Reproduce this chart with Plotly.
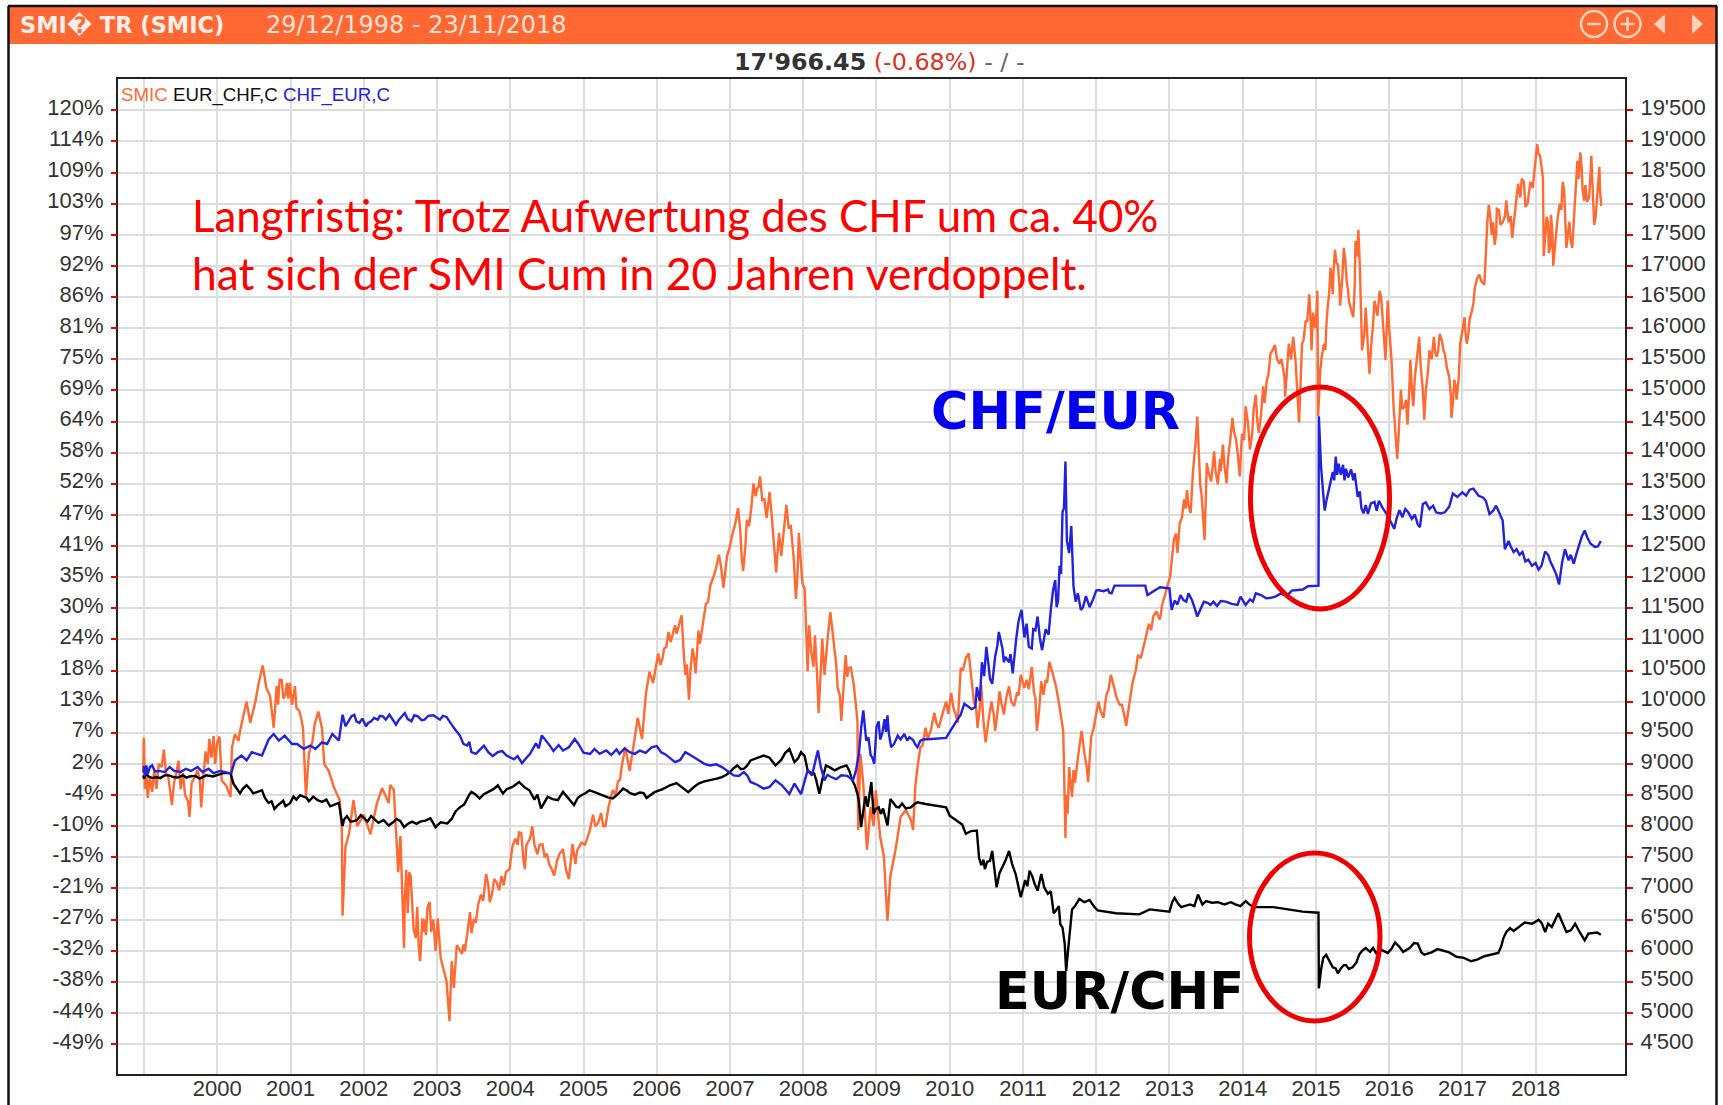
import plotly.graph_objects as go

# ---- data: (decimal year, value) ----
smic_points = [
(1998.99,8900),(1998.995,9420),(1999.0,9350),(1999.01,8600),(1999.03,8900),(1999.05,8450),(1999.08,8800),(1999.11,8550),
(1999.14,8900),(1999.17,8600),(1999.2,9000),(1999.24,8950),(1999.27,9230),(1999.3,8850),(1999.33,8800),(1999.38,8340),
(1999.41,8700),(1999.44,8850),(1999.47,9050),(1999.5,8600),(1999.53,8850),(1999.56,8500),(1999.6,8400),(1999.62,8150),
(1999.65,8700),(1999.7,8800),(1999.73,8900),(1999.76,8750),(1999.78,8300),(1999.81,8800),(1999.84,9200),(1999.87,9000),
(1999.89,9400),(1999.92,9100),(1999.95,9450),(1999.97,9000),(2000.0,9350),(2000.03,9440),(2000.06,8735),(2000.12,8650),
(2000.18,8470),(2000.2,9265),(2000.24,9477),(2000.29,9370),(2000.31,9530),(2000.36,9795),(2000.4,10000),(2000.45,9660),
(2000.52,10000),(2000.56,10270),(2000.62,10580),(2000.67,10220),(2000.72,10090),(2000.77,9580),(2000.81,10250),(2000.88,10350),
(2000.93,10110),(2000.95,10300),(2001.02,9950),(2001.06,10250),(2001.08,9900),(2001.17,9580),(2001.21,8470),(2001.25,9160),
(2001.3,9370),(2001.33,9640),(2001.38,9840),(2001.43,9560),(2001.46,9000),(2001.52,8890),(2001.59,8630),(2001.67,8420),
(2001.7,7940),(2001.71,6560),(2001.75,7670),(2001.8,7890),(2001.86,8420),(2001.91,8000),(2002.0,8185),(2002.09,7870),
(2002.18,8370),(2002.25,8610),(2002.34,8370),(2002.36,8660),(2002.41,8580),(2002.43,8100),(2002.47,7260),(2002.5,7840),
(2002.55,6040),(2002.56,6830),(2002.62,7260),(2002.66,6780),(2002.71,6200),(2002.77,5830),(2002.8,6520),(2002.85,6250),
(2002.9,6780),(2002.98,5990),(2003.01,6520),(2003.05,5880),(2003.13,5510),(2003.17,4870),(2003.2,5830),(2003.23,5400),
(2003.27,6090),(2003.38,5990),(2003.45,6620),(2003.47,6280),(2003.56,6730),(2003.67,7230),(2003.72,6780),(2003.81,7100),
(2003.85,6970),(2003.94,7260),(2003.99,7310),(2004.03,7680),(2004.15,7890),(2004.2,7310),(2004.24,7735),(2004.3,8000),
(2004.37,7550),(2004.44,7710),(2004.53,7390),(2004.6,7205),(2004.67,7550),(2004.72,7630),(2004.8,7150),(2004.85,7710),
(2004.89,7390),(2004.97,7735),(2005.06,7840),(2005.13,8185),(2005.2,8050),(2005.24,8210),(2005.3,8000),(2005.4,8580),
(2005.47,8715),(2005.52,8950),(2005.57,9265),(2005.63,8890),(2005.7,9425),(2005.74,9740),(2005.8,9400),(2005.85,10110),
(2005.9,10480),(2005.95,10300),(2006.02,10775),(2006.05,10590),(2006.13,10880),(2006.16,11120),(2006.19,10960),(2006.25,11225),
(2006.27,11090),(2006.34,11385),(2006.37,10750),(2006.39,10430),(2006.44,10030),(2006.49,10855),(2006.53,10455),(2006.57,11145),
(2006.59,10935),(2006.67,11570),(2006.73,11860),(2006.77,11990),(2006.85,12360),(2006.91,11830),(2006.96,12340),(2007.03,12680),
(2007.11,13110),(2007.14,12760),(2007.18,12100),(2007.23,12920),(2007.26,12820),(2007.32,13505),(2007.37,13425),(2007.41,13620),
(2007.44,13240),(2007.5,12950),(2007.54,13370),(2007.57,12975),(2007.63,12075),(2007.67,12710),(2007.7,12340),(2007.77,13160),
(2007.83,12820),(2007.9,11650),(2007.94,12710),(2007.97,12180),(2008.02,11810),(2008.06,10485),(2008.08,11225),(2008.14,10560),
(2008.16,11065),(2008.21,9820),(2008.26,11015),(2008.29,10430),(2008.37,11440),(2008.43,10855),(2008.47,10220),(2008.52,9690),
(2008.58,10750),(2008.62,10540),(2008.69,10270),(2008.74,9690),(2008.75,7940),(2008.78,9160),(2008.82,8680),(2008.87,7620),
(2008.92,8310),(2008.96,8000),(2008.99,8575),(2009.05,7830),(2009.1,7520),(2009.15,6480),(2009.19,7200),(2009.26,7620),
(2009.33,8150),(2009.4,8260),(2009.47,8100),(2009.5,7940),(2009.53,8630),(2009.56,8950),(2009.6,9265),(2009.67,9580),
(2009.74,9530),(2009.79,9820),(2009.85,9580),(2009.95,10000),(2010.02,10140),(2010.11,9660),(2010.15,10540),(2010.26,10775),
(2010.3,10270),(2010.38,9580),(2010.43,10270),(2010.49,9345),(2010.57,10000),(2010.62,9530),(2010.68,10165),(2010.74,9795),
(2010.81,10245),(2010.88,9930),(2010.97,10430),(2011.02,10220),(2011.12,10560),(2011.19,9530),(2011.25,10325),(2011.28,10110),
(2011.36,10640),(2011.4,10480),(2011.48,10060),(2011.55,9530),(2011.58,7810),(2011.63,8950),(2011.67,8470),(2011.75,9100),
(2011.8,9530),(2011.84,9160),(2011.89,8710),(2011.93,9425),(2012.03,10000),(2012.1,9740),(2012.14,10110),(2012.2,10430),
(2012.28,10060),(2012.35,9950),(2012.41,9610),(2012.5,10325),(2012.57,10750),(2012.65,10900),(2012.72,11250),(2012.78,11370),
(2012.87,11320),(2012.95,11750),(2013.01,12015),(2013.06,12600),(2013.11,12390),(2013.14,12870),(2013.2,13250),(2013.24,13400),
(2013.29,13030),(2013.32,13675),(2013.38,14580),(2013.4,13890),(2013.44,13300),(2013.48,12600),(2013.51,13835),(2013.57,13540),
(2013.61,14020),(2013.66,13490),(2013.73,14130),(2013.78,13510),(2013.86,14560),(2013.91,14210),(2013.96,13620),(2014.04,14745),
(2014.1,14050),(2014.18,14930),(2014.22,14320),(2014.28,15065),(2014.33,15170),(2014.38,15590),(2014.44,15730),(2014.5,15430),
(2014.57,15220),(2014.58,14900),(2014.63,15750),(2014.69,15860),(2014.77,14480),(2014.81,15750),(2014.86,16120),(2014.91,16545),
(2014.94,15645),(2015.02,16600),(2015.03,14585),(2015.06,15330),(2015.11,15750),(2015.16,16330),(2015.2,16970),(2015.23,16545),
(2015.26,17260),(2015.3,17020),(2015.33,16360),(2015.38,17290),(2015.42,16760),(2015.45,16440),(2015.51,16175),(2015.54,17400),
(2015.58,17580),(2015.6,16970),(2015.63,15645),(2015.68,16330),(2015.73,15270),(2015.8,16440),(2015.87,16600),(2015.91,16175),
(2015.95,15490),(2015.98,16440),(2016.03,15540),(2016.06,14745),(2016.11,13900),(2016.16,15010),(2016.21,14745),(2016.25,14450),
(2016.29,15490),(2016.33,14745),(2016.41,15860),(2016.48,14530),(2016.55,15645),(2016.61,15860),(2016.65,15540),(2016.69,15910),
(2016.76,15590),(2016.82,15220),(2016.85,14560),(2016.89,15170),(2016.92,14850),(2016.97,15750),(2017.03,16175),(2017.06,15750),
(2017.13,16280),(2017.17,16650),(2017.23,16860),(2017.3,16700),(2017.32,17340),(2017.36,17980),(2017.44,17340),(2017.47,17920),
(2017.52,17660),(2017.6,18055),(2017.68,17450),(2017.76,18320),(2017.81,18400),(2017.86,17950),(2017.93,18350),(2018.02,18955),
(2018.06,18770),(2018.1,18400),(2018.11,17155),(2018.15,17790),(2018.18,17210),(2018.21,17820),(2018.24,17000),(2018.3,17765),
(2018.37,18350),(2018.42,17290),(2018.46,17710),(2018.5,17290),(2018.53,17920),(2018.57,18690),(2018.61,18825),(2018.64,18240),
(2018.7,18030),(2018.76,18770),(2018.8,17660),(2018.87,18590),(2018.895,17966),
# finer wiggles
(2000.83,9950),(2000.85,10350),(2000.9,10050),(2000.97,10050),(2000.99,10300),(2001.04,10150),(2001.12,9850),(2001.15,9700),
(2002.58,7300),(2002.6,6600),(2002.64,7200),(2002.68,6350),(2002.73,6700),(2002.75,6050),(2002.79,6300),(2002.82,6300),(2002.83,6500),
(2002.87,6700),(2002.92,6300),(2002.95,6500),(2003.31,6000),(2003.34,5950),(2003.36,6100),(2003.41,6250),(2003.5,6500),(2003.53,6450),
(2003.6,6900),(2003.63,6800),(2003.7,7050),(2003.75,6900),(2003.78,7150),(2003.88,7200),(2003.91,7050),(2004.07,7800),(2004.1,7700),
(2004.12,7900),(2004.18,7450),(2004.22,7700),(2004.27,7800),(2004.33,7700),(2004.4,7700),(2004.47,7500),(2004.5,7560),(2004.57,7300),
(2004.64,7450),(2004.76,7300),(2004.83,7550),(2004.91,7600),(2005.02,7700),(2005.09,7950),(2005.16,8000),(2005.27,8000),(2005.34,8300),
(2005.44,8500),(2005.5,8750),(2005.6,9050),(2006.08,10700),(2006.1,10850),(2006.21,11050),(2006.3,11200),(2006.41,10600),(2006.46,10500),
(2006.51,10700),(2006.55,10800),(2006.62,11200),(2006.7,11600),(2006.8,12100),(2006.88,12150),(2006.94,12100),(2007.0,12500),(2007.07,12850),
(2007.16,12300),(2007.21,12500),(2007.29,13100),(2007.35,13300),(2007.39,13450),(2007.47,13250),(2007.52,13150),(2007.6,12500),(2007.65,12400),
(2007.72,12600),(2007.75,12900),(2007.8,12800),(2007.87,12300),(2007.92,12000),(2007.99,11900),(2008.04,11000),(2008.11,10800),(2008.19,10400),
(2008.24,10500),(2008.32,10900),(2008.34,11100),(2008.4,11100),(2008.45,10600),(2008.5,10100),(2008.55,10200),(2008.6,10400),(2008.65,10550),
(2008.71,10050),(2009.63,9300),(2009.7,9400),(2009.77,9700),(2009.82,9650),(2009.9,9800),(2009.98,9800),(2010.05,9900),(2010.08,9800),
(2010.13,10200),(2010.18,10500),(2010.22,10700),(2010.33,10000),(2010.36,9900),(2010.41,9900),(2010.46,9700),(2010.53,9700),(2010.6,9800),
(2010.65,9800),(2010.71,9950),(2010.77,10050),(2010.84,10000),(2010.92,10150),(2010.94,10100),(2011.05,10350),(2011.08,10200),(2011.15,10150),
(2011.17,10050),(2011.22,9850),(2011.31,10350),(2011.33,10300),(2011.45,10250),(2011.51,9800),(2011.59,8500),(2011.61,8200),(2011.65,8700),
(2011.69,8900),(2011.71,8700),(2011.77,9300),(2011.87,8950),(2011.91,9100),(2011.97,9600),(2012.0,9800),(2012.06,9850),(2012.12,9950),
(2012.17,10200),(2012.24,10250),(2012.32,9950),(2012.38,9800),(2012.45,9950),(2012.54,10500),(2012.61,10700),(2012.68,11100),(2012.75,11150),
(2012.82,11450),(2012.9,11550),(2012.98,11900),(2013.09,12700),(2013.17,12950),(2013.22,13100),(2013.26,13150),(2013.35,14000),(2013.36,14200),
(2013.42,13500),(2013.46,13000),(2013.53,13700),(2013.59,13800),(2013.63,13700),(2013.69,13900),(2013.7,13700),(2013.75,13800),(2013.8,13900),
(2013.83,14200),(2013.88,14350),(2013.94,13900),(2013.99,14300),(2014.02,14200),(2014.07,14500),(2014.13,14300),(2014.15,14700),(2014.2,14500),
(2014.25,14600),(2014.3,14800),(2014.35,15250),(2014.41,15650),(2014.47,15500),(2014.53,15500),(2014.6,15300),(2014.66,15500),(2014.72,15500),
(2014.74,15100),(2014.79,15100),(2014.83,15800),(2014.88,16100),(2014.93,16050),(2014.96,16250),(2014.99,16000),(2015.01,16300),(2015.08,15550),
(2015.13,15650),(2015.14,16000),(2015.18,16550),(2015.24,16900),(2015.28,17050),(2015.32,16700),(2015.36,16800),(2015.4,17100),(2015.44,16600),
(2015.48,16300),(2015.53,16700),(2015.56,17150),(2015.62,16300),(2015.66,15900),(2015.7,15900),(2015.76,15800),(2015.78,16050),(2015.84,16200),
(2015.89,16500),(2015.93,15850),(2015.97,16100),(2016.0,16000),(2016.08,14450),(2016.13,14300),(2016.18,14700),(2016.23,14850),(2016.27,14900),
(2016.31,15000),(2016.35,15200),(2016.38,15500),(2016.43,15400),(2016.46,15000),(2016.5,15000),(2016.53,15300),(2016.58,15500),(2016.63,15600),
(2016.67,15650),(2016.72,15800),(2016.74,15650),(2016.79,15350),(2016.84,14950),(2016.87,14800),(2016.91,15050),(2016.95,15200),(2016.99,15900),
(2017.01,16050),(2017.04,15950),(2017.08,15900),(2017.1,16150),(2017.15,16400),(2017.2,16800),(2017.26,16750),(2017.34,17700),(2017.38,17800),
(2017.4,17500),(2017.42,17700),(2017.46,17500),(2017.5,17900),(2017.55,17700),(2017.58,17800),(2017.63,17700),(2017.66,17800),(2017.7,17700),
(2017.74,18100),(2017.79,18100),(2017.84,18350),(2017.89,18000),(2017.91,18200),(2017.96,18250),(2017.99,18600),(2018.04,18800),(2018.08,18600),
(2018.13,17500),(2018.17,17700),(2018.2,17300),(2018.23,17500),(2018.27,17400),(2018.33,18000),(2018.35,17900),(2018.39,18200),(2018.44,17550),
(2018.48,17400),(2018.52,17700),(2018.55,18300),(2018.59,18400),(2018.63,18550),(2018.66,18050),(2018.68,18300),(2018.73,18100),(2018.75,18500),
(2018.78,18200),(2018.82,17800),(2018.85,18200),(2018.88,18200),
]
eur_chf_points = [
(1998.99,-0.5),(1999.0,-1.1),(1999.07,-0.8),(1999.17,-0.8),(1999.28,-0.5),(1999.4,-0.8),(1999.53,-0.5),(1999.62,-0.7),
(1999.76,-1.1),(1999.85,-0.5),(1999.94,-0.7),(2000.08,-0.1),(2000.18,-0.1),(2000.22,-2.0),(2000.31,-3.75),(2000.4,-2.3),
(2000.49,-3.75),(2000.61,-3.2),(2000.7,-5.5),(2000.78,-6.6),(2000.86,-5.5),(2000.93,-6.1),(2001.04,-4.35),(2001.18,-4.35),
(2001.25,-5.2),(2001.31,-4.35),(2001.43,-5.3),(2001.54,-6.1),(2001.66,-5.5),(2001.71,-9.7),(2001.77,-7.9),(2001.86,-8.8),
(2001.91,-8.6),(2002.0,-8.3),(2002.14,-8.4),(2002.34,-9.6),(2002.45,-8.4),(2002.55,-9.9),(2002.66,-8.9),(2002.77,-8.9),
(2002.91,-8.3),(2002.98,-9.9),(2003.14,-9.2),(2003.25,-7.1),(2003.41,-4.7),(2003.47,-3.5),(2003.58,-4.7),(2003.7,-3.5),
(2003.83,-2.3),(2003.9,-3.8),(2004.03,-2.6),(2004.12,-1.7),(2004.26,-3.2),(2004.42,-6.5),(2004.51,-4.4),(2004.65,-5.0),
(2004.72,-3.5),(2004.87,-5.9),(2004.97,-4.1),(2005.08,-3.2),(2005.26,-4.1),(2005.4,-4.7),(2005.54,-2.9),(2005.63,-3.7),
(2005.77,-3.6),(2005.86,-4.6),(2005.97,-3.55),(2006.18,-2.3),(2006.27,-1.9),(2006.43,-3.55),(2006.57,-2.0),(2006.73,-1.4),
(2006.89,-0.8),(2007.0,0.1),(2007.1,1.3),(2007.19,0.7),(2007.28,2.2),(2007.46,3.1),(2007.62,1.3),(2007.81,4.3),
(2007.88,1.9),(2007.97,3.7),(2008.06,0.4),(2008.15,-0.2),(2008.22,-3.85),(2008.31,1.3),(2008.43,0.4),(2008.59,1.3),
(2008.67,-1.4),(2008.74,-3.85),(2008.79,-9.9),(2008.82,-6.9),(2008.93,-1.7),(2008.96,-7.5),(2009.03,-6.3),(2009.15,-9.6),
(2009.19,-4.8),(2009.31,-6.3),(2009.47,-6.3),(2009.56,-5.4),(2009.67,-5.7),(2009.95,-6.3),(2010.0,-7.8),(2010.13,-9.1),
(2010.22,-11.1),(2010.37,-10.5),(2010.4,-15.4),(2010.48,-17.5),(2010.58,-14.2),(2010.64,-20.8),(2010.72,-17.2),(2010.81,-14.2),
(2010.9,-18.4),(2010.97,-22.6),(2011.09,-17.8),(2011.2,-21.4),(2011.25,-18.4),(2011.34,-22.0),(2011.45,-25.0),(2011.54,-28.1),
(2011.59,-36.0),(2011.63,-29.9),(2011.67,-24.8),(2011.77,-22.9),(2011.91,-23.1),(2012.02,-25.0),(2012.27,-25.5),(2012.59,-25.7),
(2012.73,-24.8),(2013.0,-25.2),(2013.07,-22.7),(2013.16,-24.4),(2013.34,-24.2),(2013.39,-22.1),(2013.5,-23.3),(2013.66,-23.5),
(2013.84,-23.5),(2013.97,-24.2),(2014.04,-23.3),(2014.15,-24.4),(2014.42,-24.4),(2014.64,-24.9),(2014.82,-25.2),(2015.035,-25.4),
(2015.04,-39.1),(2015.07,-35.7),(2015.14,-33.05),(2015.23,-35.3),(2015.3,-36.4),(2015.41,-34.9),(2015.5,-35.3),(2015.59,-33.05),
(2015.68,-31.8),(2015.82,-32.7),(2015.98,-32.7),(2016.08,-30.8),(2016.19,-32.5),(2016.39,-31.0),(2016.48,-33.0),(2016.73,-32.3),
(2016.92,-33.4),(2017.12,-34.2),(2017.3,-33.3),(2017.49,-32.7),(2017.56,-30.0),(2017.6,-28.9),(2017.79,-27.8),(2018.04,-26.7),
(2018.13,-28.9),(2018.31,-25.5),(2018.42,-28.9),(2018.54,-27.4),(2018.67,-30.4),(2018.79,-29.1),(2018.89,-29.4),
# finer wiggles
(1999.02,-0.2),(1999.12,-1.0),(1999.22,-1.0),(1999.34,-0.5),(1999.46,-0.9),(1999.58,-0.9),(1999.7,-0.6),(2000.25,-2.6),(2000.28,-3.2),
(2000.35,-2.9),(2000.45,-3.0),(2000.55,-3.5),(2000.65,-4.6),(2000.74,-5.2),(2000.82,-6.0),(2000.9,-5.1),(2000.99,-5.6),(2001.08,-4.9),
(2001.13,-4.1),(2001.22,-4.6),(2001.37,-5.0),(2001.49,-4.9),(2001.6,-5.8),(2001.73,-8.5),(2001.82,-8.9),(2001.96,-7.7),(2002.05,-8.9),
(2002.1,-7.9),(2002.2,-9.1),(2002.27,-8.6),(2002.4,-9.0),(2002.5,-8.8),(2002.6,-9.3),(2002.72,-9.3),(2002.84,-8.7),(2003.05,-9.0),
(2003.2,-8.4),(2003.31,-6.3),(2003.37,-5.8),(2003.44,-4.0),(2003.53,-4.0),(2003.64,-3.9),(2003.77,-3.0),(2003.87,-3.2),(2003.95,-3.0),
(2004.07,-2.2),(2004.19,-2.6),(2004.33,-4.9),(2004.37,-4.0),(2004.47,-5.4),(2004.58,-4.8),(2004.79,-4.7),(2004.92,-4.6),(2005.03,-3.7),
(2005.16,-3.6),(2005.33,-4.5),(2005.47,-3.9),(2005.6,-3.3),(2005.7,-4.0),(2005.82,-3.7),(2005.92,-4.1),(2006.08,-3.0),(2006.34,-2.6),
(2006.5,-2.7),(2006.65,-1.6),(2006.82,-1.1),(2006.95,-0.4),(2007.05,0.8),(2007.15,0.6),(2007.23,1.2),(2007.37,2.6),(2007.54,2.7),
(2007.7,2.3),(2007.75,3.5),(2007.93,2.6),(2008.02,3.0),(2008.1,0.0),(2008.18,-1.5),(2008.26,-1.3),(2008.37,0.9),(2008.5,0.9),(2008.63,0.3),
(2008.7,-2.2),(2008.76,-5.2),(2008.85,-4.3),(2008.88,-6.2),(2008.99,-6.6),(2009.06,-7.5),(2009.09,-6.5),(2009.12,-8.0),(2009.23,-5.6),
(2009.27,-6.2),(2009.35,-5.6),(2009.4,-6.5),(2009.52,-5.7),(2010.06,-8.4),(2010.17,-9.4),(2010.29,-10.6),(2010.43,-16.8),(2010.46,-15.8),
(2010.51,-16.2),(2010.55,-16.0),(2010.61,-17.5),(2010.68,-18.2),(2010.76,-16.0),(2010.85,-16.5),(2010.93,-20.2),(2011.03,-19.5),(2011.06,-20.6),
(2011.13,-18.9),(2011.16,-20.2),(2011.23,-19.6),(2011.29,-20.8),(2011.38,-21.5),(2011.42,-25.5),(2011.49,-24.2),(2011.51,-27.5),(2011.57,-31.0),
(2011.61,-33.0),(2011.65,-26.5),(2011.71,-24.2),(2011.74,-23.5),(2011.84,-23.5),(2011.97,-24.3),(2013.04,-23.4),(2013.12,-23.8),(2013.28,-23.9),
(2013.45,-23.9),(2013.58,-23.6),(2013.75,-23.9),(2013.9,-23.9),(2014.09,-23.9),(2015.1,-33.6),(2015.18,-34.0),(2015.27,-35.5),(2015.34,-35.5),
(2015.38,-34.9),(2015.45,-35.6),(2015.55,-34.5),(2015.63,-32.3),(2015.74,-32.5),(2015.78,-31.8),(2015.9,-32.2),(2016.03,-32.0),(2016.14,-31.6),
(2016.28,-31.8),(2016.34,-30.9),(2016.44,-32.6),(2016.58,-32.6),(2016.66,-32.0),(2016.82,-32.6),(2017.02,-33.6),(2017.2,-33.9),(2017.4,-33.0),
(2017.53,-31.5),(2017.65,-28.2),(2017.7,-28.7),(2017.85,-27.2),(2017.95,-27.4),(2018.08,-27.2),(2018.17,-27.4),(2018.22,-28.0),(2018.36,-27.2),
(2018.48,-28.6),(2018.6,-28.9),(2018.72,-29.2),(2018.84,-29.0),
]
chf_eur_points = [
(1998.99,0.0),(1999.0,1.2),(1999.01,-0.6),(1999.03,1.3),(1999.05,-0.3),(1999.08,1.0),(1999.11,1.3),(1999.15,0.2),
(1999.21,0.3),(1999.28,0.1),(1999.35,1.0),(1999.41,0.3),(1999.5,0.1),(1999.57,0.7),(1999.64,0.3),(1999.73,1.0),
(1999.8,0.1),(1999.88,0.7),(1999.95,-0.1),(2000.04,0.3),(2000.14,0.0),(2000.19,-0.1),(2000.24,2.2),(2000.29,2.7),
(2000.33,3.1),(2000.4,2.2),(2000.47,3.7),(2000.54,3.4),(2000.61,3.1),(2000.7,6.0),(2000.77,7.0),(2000.84,5.8),
(2000.92,6.7),(2001.02,5.2),(2001.09,5.2),(2001.18,4.3),(2001.27,4.9),(2001.34,4.3),(2001.43,5.5),(2001.5,5.2),
(2001.57,7.0),(2001.66,5.8),(2001.71,10.5),(2001.75,8.4),(2001.87,10.5),(2001.94,9.0),(2002.03,8.4),(2002.1,9.3),
(2002.19,9.6),(2002.26,10.2),(2002.35,10.5),(2002.44,8.7),(2002.56,10.8),(2002.65,9.3),(2002.74,10.2),(2002.83,9.6),
(2002.95,10.4),(2003.13,10.1),(2003.22,8.3),(2003.31,6.75),(2003.41,4.9),(2003.47,3.7),(2003.59,4.3),(2003.7,3.7),
(2003.83,3.7),(2003.95,3.1),(2004.16,1.7),(2004.27,3.4),(2004.43,6.75),(2004.54,4.9),(2004.72,4.0),(2004.88,6.1),
(2005.09,3.4),(2005.31,4.0),(2005.49,3.4),(2005.63,3.7),(2005.77,4.0),(2005.93,4.6),(2006.06,3.7),(2006.25,1.9),
(2006.39,3.7),(2006.57,2.2),(2006.73,1.3),(2006.89,1.0),(2007.05,-0.5),(2007.19,0.1),(2007.28,-1.7),(2007.46,-2.9),
(2007.62,-1.4),(2007.81,-3.9),(2007.88,-2.0),(2007.97,-3.9),(2008.06,0.4),(2008.12,-0.5),(2008.2,4.0),(2008.29,-1.4),
(2008.38,-0.8),(2008.52,-0.5),(2008.68,-1.4),(2008.76,3.4),(2008.82,11.3),(2008.89,6.4),(2008.97,1.6),(2009.0,8.3),
(2009.08,7.2),(2009.15,10.4),(2009.2,4.6),(2009.29,6.7),(2009.45,6.4),(2009.56,4.6),(2009.6,5.8),(2009.95,6.3),
(2010.1,9.5),(2010.2,12.5),(2010.35,11.9),(2010.37,15.5),(2010.41,13.0),(2010.5,22.8),(2010.58,16.1),(2010.67,25.5),
(2010.76,21.0),(2010.86,18.0),(2010.98,29.5),(2011.08,22.8),(2011.17,25.8),(2011.2,28.3),(2011.26,22.2),(2011.38,29.5),
(2011.44,34.9),(2011.48,31.3),(2011.54,47.2),(2011.58,56.4),(2011.6,42.0),(2011.63,39.8),(2011.66,44.7),(2011.69,33.7),
(2011.79,29.5),(2011.91,30.0),(2012.02,33.1),(2012.21,32.5),(2012.25,33.9),(2012.67,33.9),(2012.7,32.2),(2012.87,33.6),
(2013.0,33.4),(2013.03,29.5),(2013.15,32.2),(2013.26,32.5),(2013.38,28.3),(2013.47,31.0),(2013.56,30.4),(2013.77,31.0),
(2013.93,30.4),(2013.97,31.9),(2014.04,30.4),(2014.18,32.5),(2014.39,31.7),(2014.52,32.5),(2014.75,33.1),(2014.89,33.8),
(2015.035,33.9),(2015.04,64.6),(2015.07,55.5),(2015.14,49.1),(2015.2,53.2),(2015.27,57.3),(2015.34,54.0),(2015.41,55.1),
(2015.53,54.3),(2015.62,48.0),(2015.71,46.9),(2015.8,49.1),(2015.91,48.0),(2016.07,44.2),(2016.14,47.6),(2016.26,47.2),
(2016.39,45.0),(2016.46,48.7),(2016.64,47.2),(2016.76,47.2),(2016.87,50.6),(2017.1,51.3),(2017.28,49.9),(2017.37,46.9),
(2017.46,48.4),(2017.55,45.7),(2017.58,40.5),(2017.63,42.0),(2017.74,40.5),(2017.86,38.3),(2018.04,36.8),(2018.13,40.1),
(2018.2,38.3),(2018.32,34.1),(2018.4,40.5),(2018.52,37.9),(2018.67,43.9),(2018.81,40.9),(2018.89,42.0),
# finer wiggles
(2001.8,9.4),(2001.83,10.2),(2001.9,9.3),(2001.98,9.8),(2002.06,9.0),(2002.14,9.9),(2002.22,10.3),(2002.3,9.6),(2002.39,9.7),(2002.48,9.6),
(2002.52,10.2),(2002.6,9.7),(2002.69,10.4),(2002.79,9.5),(2002.88,10.3),(2003.04,9.6),(2003.08,10.3),(2003.17,9.2),(2003.26,7.6),(2003.36,5.2),
(2003.44,5.6),(2003.53,3.4),(2003.64,4.9),(2003.76,3.0),(2003.89,3.9),(2004.05,2.4),(2004.1,3.0),(2004.21,2.5),(2004.35,5.3),(2004.39,4.4),
(2004.48,6.0),(2004.59,3.9),(2004.66,5.0),(2004.8,4.6),(2004.93,5.2),(2005.0,3.6),(2005.15,4.3),(2005.22,3.4),(2005.38,3.2),(2005.45,4.2),
(2005.56,4.4),(2005.7,3.4),(2005.85,3.6),(2006.0,4.8),(2006.12,3.3),(2006.32,2.3),(2006.48,3.0),(2006.65,1.6),(2006.81,1.5),(2006.97,0.2),
(2007.12,-0.6),(2007.24,-0.6),(2007.37,-2.2),(2007.54,-2.6),(2007.71,-2.3),(2008.02,-1.5),(2008.16,2.0),(2008.24,1.0),(2008.33,-0.4),(2008.45,-1.2),
(2008.6,-0.6),(2008.72,0.4),(2008.79,8.0),(2008.84,8.5),(2008.86,5.8),(2008.92,3.2),(2008.94,2.8),(2009.03,9.3),(2009.05,6.0),(2009.11,9.7),
(2009.13,7.4),(2009.17,7.0),(2009.24,5.2),(2009.33,6.0),(2009.38,7.0),(2009.42,5.8),(2009.5,5.9),(2009.53,5.1),(2009.64,6.0),(2009.75,6.1),
(2009.85,6.2),(2010.15,10.5),(2010.25,12.0),(2010.3,11.5),(2010.44,20.0),(2010.47,17.5),(2010.53,19.5),(2010.55,17.0),(2010.62,21.0),(2010.65,23.0),
(2010.72,22.5),(2010.74,20.0),(2010.81,20.0),(2010.83,21.5),(2010.91,24.5),(2010.94,27.5),(2011.02,24.5),(2011.05,27.0),(2011.12,22.5),(2011.14,26.0),
(2011.23,24.5),(2011.31,26.0),(2011.35,25.0),(2011.41,33.0),(2011.46,30.0),(2011.5,37.5),(2011.52,36.0),(2011.56,48.0),(2011.72,31.0),(2011.75,32.5),
(2011.82,30.0),(2011.86,32.0),(2011.96,31.5),(2012.0,33.0),(2012.1,32.9),(2012.16,33.2),(2012.18,32.6),(2013.07,31.2),(2013.11,30.5),(2013.19,31.3),
(2013.23,31.0),(2013.31,31.2),(2013.34,30.0),(2013.43,29.8),(2013.52,30.8),(2013.6,31.0),(2013.65,30.2),(2013.7,31.1),(2013.85,30.6),(2014.1,31.4),
(2014.14,31.0),(2014.25,32.2),(2014.32,31.6),(2014.46,32.0),(2014.6,32.0),(2014.67,33.0),(2014.82,33.2),(2015.1,50.5),(2015.12,47.5),(2015.17,51.0),
(2015.23,54.5),(2015.25,53.0),(2015.29,54.0),(2015.31,56.0),(2015.37,55.8),(2015.39,53.0),(2015.44,53.5),(2015.48,55.0),(2015.51,53.0),(2015.57,50.0),
(2015.6,51.0),(2015.65,47.0),(2015.68,48.5),(2015.75,48.8),(2015.83,47.5),(2015.86,49.3),(2015.96,47.0),(2016.02,45.5),(2016.1,46.0),(2016.18,46.3),
(2016.22,47.8),(2016.31,46.0),(2016.35,46.8),(2016.42,44.5),(2016.5,49.0),(2016.55,47.8),(2016.6,48.4),(2016.7,47.0),(2016.82,48.2),(2016.93,50.0),
(2017.0,50.8),(2017.05,50.2),(2017.15,51.5),(2017.22,50.2),(2017.32,49.3),(2017.42,47.5),(2017.5,47.3),(2017.66,41.0),(2017.7,40.0),(2017.78,39.5),
(2017.82,40.0),(2017.9,38.6),(2017.95,37.5),(2018.0,38.0),(2018.08,37.5),(2018.17,39.5),(2018.24,37.2),(2018.28,36.0),(2018.36,38.0),(2018.45,38.5),
(2018.48,39.5),(2018.56,39.8),(2018.6,41.5),(2018.63,42.8),(2018.71,42.5),(2018.75,41.5),(2018.85,41.0),
]
smic_years, smic_values = zip(*sorted(smic_points))
eur_years, eur_values = zip(*sorted(eur_chf_points))
chf_years, chf_values = zip(*sorted(chf_eur_points))

year_ticks = list(range(1999, 2019))
year_labels = [""] + [str(y) for y in range(2000, 2019)]
smic_ticks = list(range(4500, 20000, 500))
smic_labels = [f"{v//1000}'{v%1000:03d}" for v in smic_ticks]
pct_labels = ["-49%","-44%","-38%","-32%","-27%","-21%","-15%","-10%","-4%","2%","7%","13%","18%","24%","30%","35%",
              "41%","47%","52%","58%","64%","69%","75%","81%","86%","92%","97%","103%","109%","114%","120%"]
BASE = 8860.0
pct_ticks = [(v / BASE - 1) * 100 for v in smic_ticks]
smic_range = [4018, 20003]
pct_range = [(v / BASE - 1) * 100 for v in smic_range]
year_range = [1998.644, 2019.22]

W, H = 1723, 1105
L, R, T, B = 118, 1625, 79, 1074
px = lambda x: (x - L) / (R - L)
py = lambda y: (B - y) / (B - T)

ORANGE = "#FF6A33"
BLUE = "#2222DD"
fig = go.Figure()
fig.add_trace(go.Scatter(x=smic_years, y=smic_values, mode="lines", line=dict(color=ORANGE, width=2.4), yaxis="y", name="SMIC", showlegend=False))
fig.add_trace(go.Scatter(x=eur_years, y=eur_values, mode="lines", line=dict(color="#000000", width=2.4), yaxis="y2", name="EUR_CHF,C", showlegend=False))
fig.add_trace(go.Scatter(x=chf_years, y=chf_values, mode="lines", line=dict(color=BLUE, width=2.4), yaxis="y2", name="CHF_EUR,C", showlegend=False))

TICKFONT = dict(family="Liberation Sans", size=22, color="#333333")
fig.update_layout(
    width=W, height=H, autosize=False,
    margin=dict(l=L, r=W - R, t=T, b=H - B, pad=0, autoexpand=False),
    paper_bgcolor="white", plot_bgcolor="white", showlegend=False,
    xaxis=dict(range=year_range, tickvals=year_ticks, ticktext=year_labels, showgrid=True, gridcolor="#dddddd", gridwidth=2,
               zeroline=False, ticks="", tickfont=TICKFONT, showline=True, linecolor="#222222", linewidth=2, mirror=True, automargin=False,
               ticklabelstandoff=-6),
    yaxis=dict(range=smic_range, side="right", tickvals=smic_ticks, ticktext=smic_labels, showgrid=True, gridcolor="#dddddd", gridwidth=2,
               zeroline=False, ticks="outside", ticklen=6, tickcolor="#ee0000", tickwidth=2, tickfont=TICKFONT,
               showline=True, linecolor="#222222", linewidth=2, mirror=True, ticklabelstandoff=3, ticklabelshift=-3, automargin=False),
    yaxis2=dict(range=pct_range, side="left", overlaying="y", tickvals=pct_ticks, ticktext=pct_labels, showgrid=False,
                zeroline=False, ticks="outside", ticklen=6, tickcolor="#ee0000", tickwidth=2, tickfont=TICKFONT, ticklabelstandoff=3,
                ticklabelshift=-3, automargin=False),
)

shapes = []
def rect(x0, y0, x1, y1, **kw):
    shapes.append(dict(type="rect", xref="paper", yref="paper", x0=px(x0), x1=px(x1), y0=py(y1), y1=py(y0), layer="above", **kw))
def ellipse(x0, y0, x1, y1, **kw):
    shapes.append(dict(type="circle", xref="paper", yref="paper", x0=px(x0), x1=px(x1), y0=py(y1), y1=py(y0), layer="above", **kw))
def seg(x0, y0, x1, y1, color, w):
    shapes.append(dict(type="line", xref="paper", yref="paper", x0=px(x0), x1=px(x1), y0=py(y0), y1=py(y1), layer="above", line=dict(color=color, width=w)))
def tri(pts, color):
    d = "M " + " L ".join(f"{px(a)} {py(b)}" for a, b in pts) + " Z"
    shapes.append(dict(type="path", xref="paper", yref="paper", path=d, fillcolor=color, line=dict(width=0), layer="above"))

# header bar and outer frame
rect(9, 7, 1716, 44, fillcolor="#FF6833", line=dict(width=0))
seg(8, 6, 1717, 6, "#111111", 2.5)
seg(8.5, 6, 8.5, 1105, "#111111", 2.5)
seg(1716.5, 6, 1716.5, 1105, "#111111", 2.5)
ICON = "#FFD0BC"
ellipse(1581, 11, 1607, 37, line=dict(color=ICON, width=2.5))
seg(1587, 24, 1601, 24, ICON, 2.5)
ellipse(1614.5, 11, 1640.5, 37, line=dict(color=ICON, width=2.5))
seg(1620.5, 24, 1634.5, 24, ICON, 2.5)
seg(1627.5, 17, 1627.5, 31, ICON, 2.5)
tri([(1665, 14), (1665, 34), (1654, 24)], ICON)
tri([(1692, 14), (1692, 34), (1703, 24)], ICON)
# red ellipses
ellipse(1250.5, 387, 1389.5, 609, line=dict(color="#EE0000", width=5))
ellipse(1249.5, 853, 1380, 1021, line=dict(color="#EE0000", width=5))
fig.update_layout(shapes=shapes)

def note(x, y, text, size, color, family="Liberation Sans", xanchor="left"):
    fig.add_annotation(xref="paper", yref="paper", x=px(x), y=py(y), text=text, showarrow=False, xanchor=xanchor, yanchor="middle",
                       align="left", font=dict(family=family, size=size, color=color), xshift=0, yshift=0, borderpad=0, borderwidth=0)

note(20, 25, "<b>SMI\ufffd TR (SMIC)</b>", 22.5, "#FFEFE8", "DejaVu Sans")
note(266, 25, "29/12/1998 - 23/11/2018", 24, "#FFE2D6", "DejaVu Sans")
note(879, 62, "<b>17'966.45</b> <span style='color:#E03020'>(-0.68%)</span> <span style='color:#666666'>- / -</span>", 23.8, "#333333", "DejaVu Sans", "center")
note(121, 95, f"<span style='color:{ORANGE}'>SMIC</span> <span style='color:#111111'>EUR_CHF,C</span> <span style='color:{BLUE}'>CHF_EUR,C</span>", 18.7, "#111111")
note(192, 215, "Langfristig: Trotz Aufwertung des CHF um ca. 40%", 43.8, "#FF0000", "Lato")
note(192, 272, "hat sich der SMI Cum in 20 Jahren verdoppelt.", 44.4, "#FF0000", "Lato")
note(931, 412, "<b>CHF/EUR</b>", 51, "#0000EE", "DejaVu Sans")
note(995, 991, "<b>EUR/CHF</b>", 51, "#000000", "DejaVu Sans")

fig.write_html("out.html", config=dict(displayModeBar=False),
               post_script="document.body.style.margin='0';document.documentElement.style.overflow='hidden';window.dispatchEvent(new Event('resize'));")
